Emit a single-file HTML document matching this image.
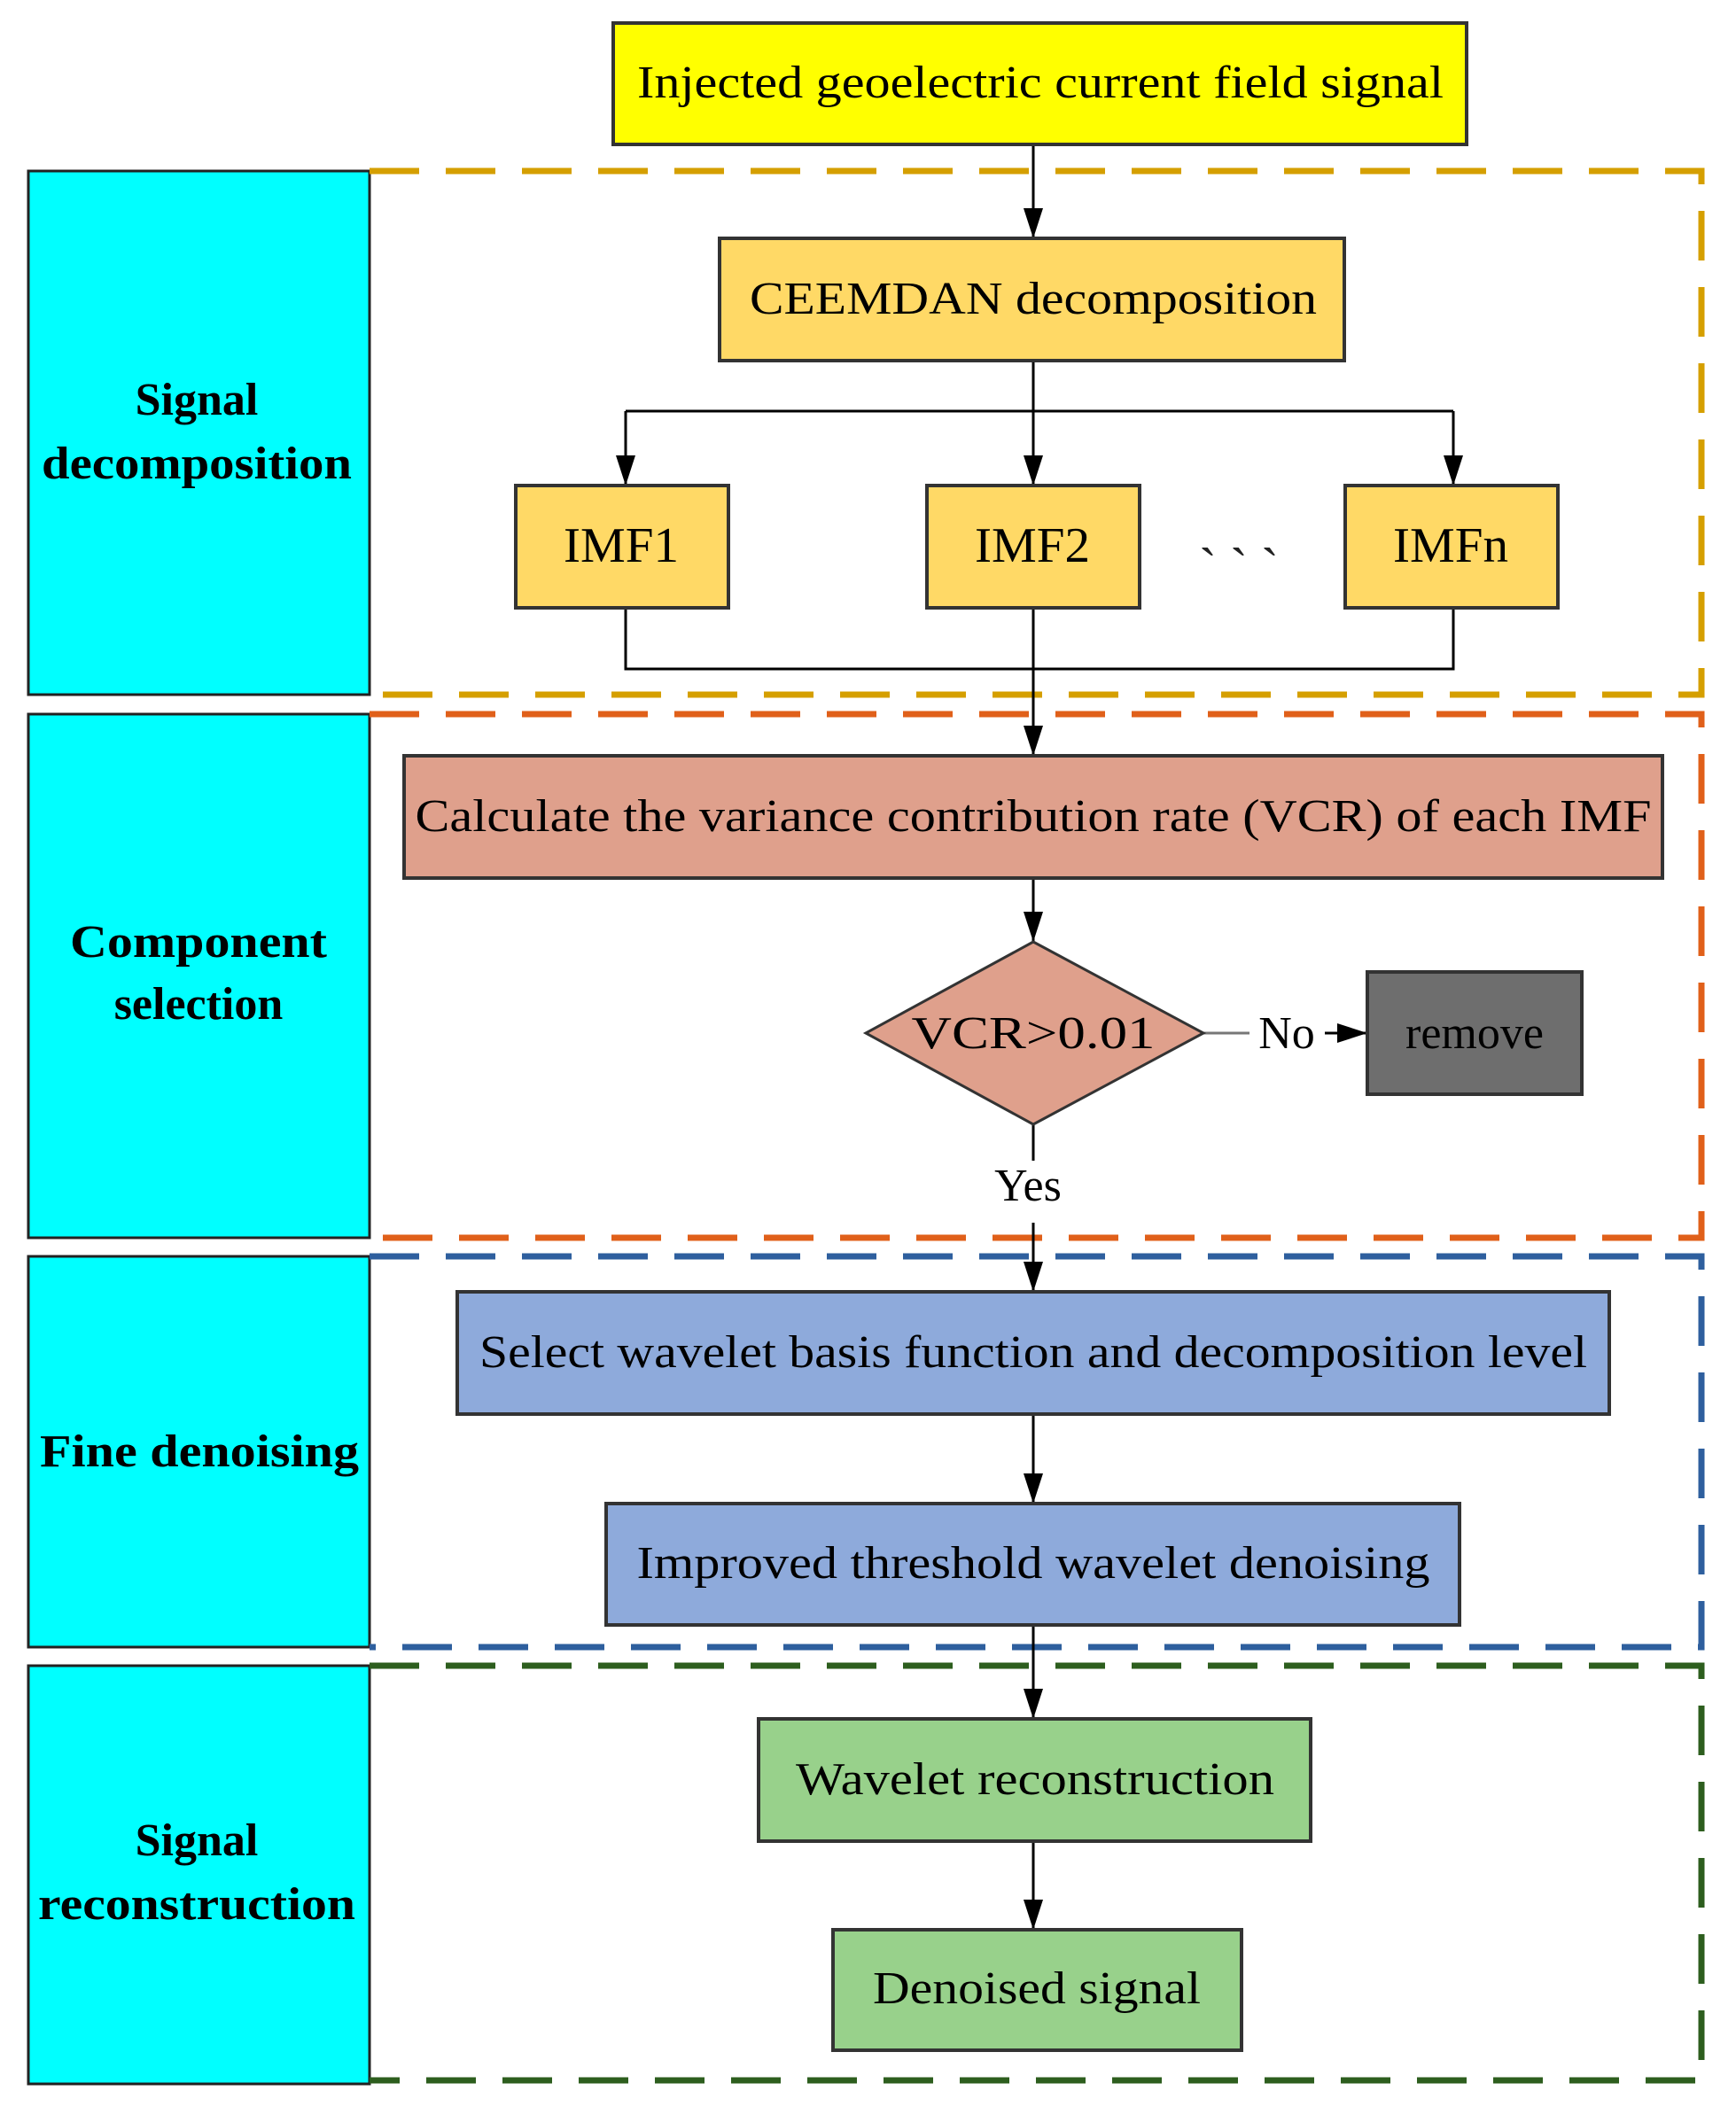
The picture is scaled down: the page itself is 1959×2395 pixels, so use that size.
<!DOCTYPE html>
<html><head><meta charset="utf-8"><style>html,body{margin:0;padding:0;background:#fff}svg{display:block}</style></head>
<body>
<svg width="1959" height="2395" viewBox="0 0 1959 2395" xmlns="http://www.w3.org/2000/svg" font-family="Liberation Serif, serif">
<defs>
<marker id="a" markerWidth="34" markerHeight="24" refX="34" refY="12" orient="auto" markerUnits="userSpaceOnUse" viewBox="0 0 34 24">
<path d="M0,1 L34,12 L0,23 Z" fill="#000"/></marker>
</defs>
<g fill="#00ffff" stroke="#222" stroke-width="3">
<rect x="32" y="193" width="385" height="591"/>
<rect x="32" y="806" width="385" height="591"/>
<rect x="32" y="1418" width="385" height="441"/>
<rect x="32" y="1880" width="385" height="472"/>
</g>
<g fill="none" stroke-width="7" stroke-dasharray="56 30">
<path d="M417,193 H1920 V784 H417" stroke="#d59f00"/>
<path d="M417,806 H1920 V1397 H417" stroke="#e0601a"/>
<path d="M417,1418 H1920 V1859 H417" stroke="#2e5f9e"/>
<path d="M417,1880 H1920 V2348 H417" stroke="#2d5e1e"/>
</g>
<g font-weight="bold" font-size="52" text-anchor="middle" fill="#000">
<text x="222" y="468">Signal</text>
<text x="222" y="540" textLength="350" lengthAdjust="spacingAndGlyphs">decomposition</text>
<text x="224" y="1080" textLength="290" lengthAdjust="spacingAndGlyphs">Component</text>
<text x="224" y="1150">selection</text>
<text x="225" y="1655" textLength="360" lengthAdjust="spacingAndGlyphs">Fine denoising</text>
<text x="222" y="2094">Signal</text>
<text x="222" y="2166" textLength="358" lengthAdjust="spacingAndGlyphs">reconstruction</text>
</g>
<g stroke="#000" stroke-width="3" fill="none">
<line x1="1166" y1="163" x2="1166" y2="269" marker-end="url(#a)"/>
<line x1="1166" y1="407" x2="1166" y2="548" marker-end="url(#a)"/>
<path d="M706,464 H1640"/>
<line x1="706" y1="464" x2="706" y2="548" marker-end="url(#a)"/>
<line x1="1640" y1="464" x2="1640" y2="548" marker-end="url(#a)"/>
<path d="M706,686 V755 H1640 V686"/>
<line x1="1166" y1="686" x2="1166" y2="853" marker-end="url(#a)"/>
<line x1="1166" y1="991" x2="1166" y2="1063" marker-end="url(#a)"/>
<line x1="1358" y1="1166" x2="1410" y2="1166" stroke="#777"/>
<line x1="1495" y1="1166" x2="1543" y2="1166" marker-end="url(#a)"/>
<line x1="1166" y1="1269" x2="1166" y2="1310"/>
<line x1="1166" y1="1380" x2="1166" y2="1458" marker-end="url(#a)"/>
<line x1="1166" y1="1596" x2="1166" y2="1697" marker-end="url(#a)"/>
<line x1="1166" y1="1834" x2="1166" y2="1940" marker-end="url(#a)"/>
<line x1="1166" y1="2078" x2="1166" y2="2178" marker-end="url(#a)"/>
</g>
<g stroke="#333" stroke-width="4">
<rect x="692" y="26" width="963" height="137" fill="#ffff00"/>
<rect x="812" y="269" width="705" height="138" fill="#ffd966"/>
<rect x="582" y="548" width="240" height="138" fill="#ffd966"/>
<rect x="1046" y="548" width="240" height="138" fill="#ffd966"/>
<rect x="1518" y="548" width="240" height="138" fill="#ffd966"/>
<rect x="456" y="853" width="1420" height="138" fill="#dfa08c"/>
<polygon points="1166,1063 1358,1166 1166,1269 977,1166" fill="#dfa08c" stroke-width="3"/>
<rect x="1543" y="1097" width="242" height="138" fill="#6e6e6e"/>
<rect x="516" y="1458" width="1300" height="138" fill="#8eaadb"/>
<rect x="684" y="1697" width="963" height="137" fill="#8eaadb"/>
<rect x="856" y="1940" width="623" height="138" fill="#98d18b"/>
<rect x="940" y="2178" width="461" height="136" fill="#98d18b"/>
</g>
<g font-size="52" text-anchor="middle" fill="#000">
<text x="1174" y="110" textLength="910" lengthAdjust="spacingAndGlyphs">Injected geoelectric current field signal</text>
<text x="1166" y="354" textLength="640" lengthAdjust="spacingAndGlyphs">CEEMDAN decomposition</text>
<text x="701" y="634" font-size="56" textLength="130" lengthAdjust="spacingAndGlyphs">IMF1</text>
<text x="1165" y="634" font-size="56" textLength="130" lengthAdjust="spacingAndGlyphs">IMF2</text>
<text x="1637" y="634" font-size="56" textLength="130" lengthAdjust="spacingAndGlyphs">IMFn</text>
<text x="1398" y="660" font-size="60" fill="#222">` ` `</text>
<text x="1166" y="938" textLength="1395" lengthAdjust="spacingAndGlyphs">Calculate the variance contribution rate (VCR) of each IMF</text>
<text x="1166" y="1183" textLength="275" lengthAdjust="spacingAndGlyphs">VCR&gt;0.01</text>
<text x="1452" y="1183">No</text>
<text x="1664" y="1183">remove</text>
<text x="1160" y="1355">Yes</text>
<text x="1166" y="1543" textLength="1250" lengthAdjust="spacingAndGlyphs">Select wavelet basis function and decomposition level</text>
<text x="1166" y="1781" textLength="895" lengthAdjust="spacingAndGlyphs">Improved threshold wavelet denoising</text>
<text x="1168" y="2025" textLength="540" lengthAdjust="spacingAndGlyphs">Wavelet reconstruction</text>
<text x="1170" y="2261" textLength="370" lengthAdjust="spacingAndGlyphs">Denoised signal</text>
</g>
</svg>
</body></html>
